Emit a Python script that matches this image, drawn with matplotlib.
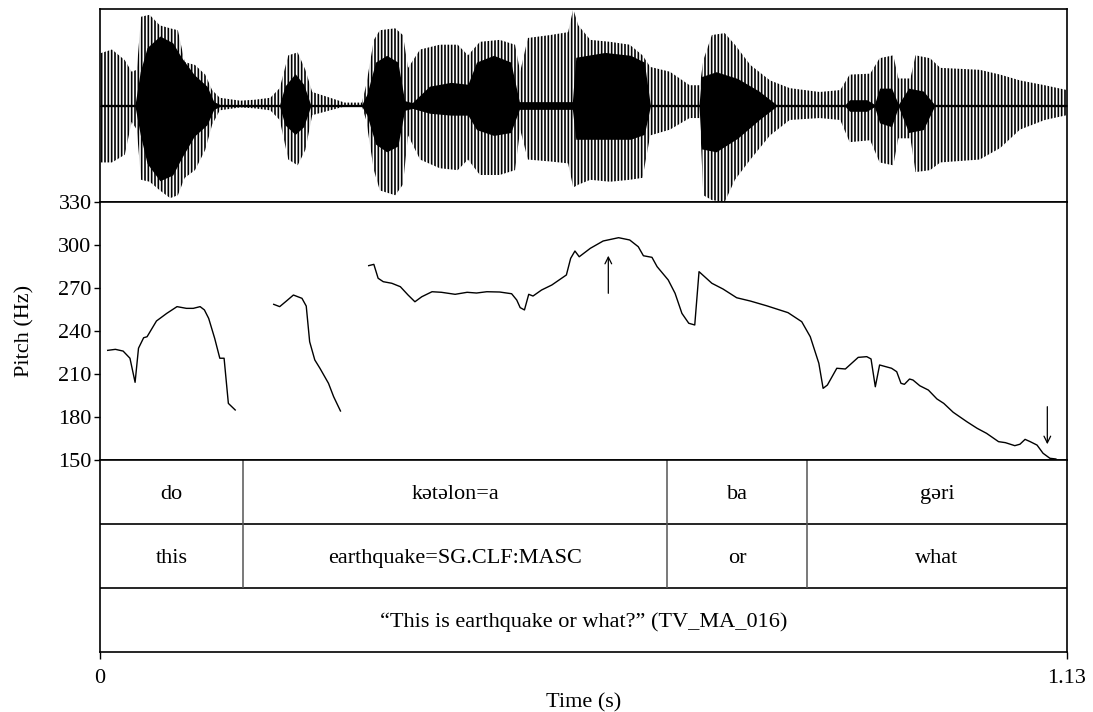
import numpy as np
import matplotlib
matplotlib.use("Agg")
import matplotlib.pyplot as plt

plt.rcParams["font.family"] = ["Liberation Serif", "DejaVu Serif"]
plt.rcParams["hatch.linewidth"] = 1.2
FS = 16
T_END = 1.13

# ── waveform envelope (panel spans -1..1) ─────────────────────────────────────
WAVE_T = [0.000, 0.014, 0.029, 0.037, 0.043, 0.048, 0.058, 0.070, 0.082, 0.091,
          0.099, 0.111, 0.123, 0.131, 0.140, 0.164, 0.181, 0.199, 0.210, 0.220,
          0.231, 0.240, 0.248, 0.269, 0.286, 0.306, 0.311, 0.320, 0.327, 0.345,
          0.354, 0.360, 0.374, 0.397, 0.418, 0.430, 0.444, 0.467, 0.485, 0.491,
          0.500, 0.526, 0.547, 0.553, 0.559, 0.573, 0.596, 0.619, 0.634, 0.643,
          0.666, 0.689, 0.701, 0.705, 0.715, 0.730, 0.742, 0.760, 0.783, 0.806,
          0.841, 0.865, 0.876, 0.900, 0.911, 0.927, 0.933, 0.947, 0.953, 0.970,
          0.982, 1.028, 1.052, 1.075, 1.104, 1.130]
WAVE_TOP = [0.54, 0.58, 0.47, 0.35, 0.37, 0.92, 0.94, 0.83, 0.80, 0.78,
            0.45, 0.42, 0.32, 0.16, 0.08, 0.05, 0.06, 0.08, 0.18, 0.52,
            0.55, 0.37, 0.14, 0.08, 0.03, 0.03, 0.21, 0.68, 0.78, 0.80,
            0.73, 0.39, 0.58, 0.63, 0.63, 0.52, 0.66, 0.68, 0.63, 0.35,
            0.70, 0.73, 0.76, 1.00, 0.83, 0.68, 0.66, 0.63, 0.52, 0.40,
            0.35, 0.21, 0.21, 0.47, 0.73, 0.75, 0.63, 0.42, 0.26, 0.18,
            0.14, 0.16, 0.32, 0.33, 0.49, 0.52, 0.28, 0.28, 0.52, 0.49,
            0.39, 0.37, 0.32, 0.26, 0.21, 0.16]
WAVE_BOT = [-0.59, -0.59, -0.51, -0.17, -0.25, -0.77, -0.79, -0.88, -0.96, -0.93,
            -0.75, -0.67, -0.46, -0.20, -0.05, -0.02, -0.03, -0.05, -0.15, -0.56,
            -0.62, -0.46, -0.10, -0.05, -0.01, -0.01, -0.15, -0.67, -0.88, -0.93,
            -0.82, -0.31, -0.56, -0.65, -0.67, -0.56, -0.72, -0.72, -0.67, -0.25,
            -0.56, -0.58, -0.60, -0.85, -0.82, -0.77, -0.79, -0.77, -0.75, -0.31,
            -0.25, -0.13, -0.13, -0.93, -0.98, -1.00, -0.77, -0.56, -0.31, -0.15,
            -0.13, -0.15, -0.38, -0.36, -0.59, -0.62, -0.34, -0.34, -0.69, -0.67,
            -0.59, -0.56, -0.44, -0.25, -0.15, -0.10]

# dense (solid black) core of the waveform
CORE_T = [0.000, 0.041, 0.047, 0.055, 0.070, 0.085, 0.095, 0.110, 0.125, 0.133,
          0.140, 0.210, 0.216, 0.228, 0.238, 0.246, 0.306, 0.312, 0.322, 0.335,
          0.348, 0.356, 0.365, 0.385, 0.410, 0.430, 0.440, 0.460, 0.480, 0.490,
          0.552, 0.556, 0.590, 0.620, 0.636, 0.643, 0.700, 0.703, 0.720, 0.745,
          0.770, 0.790, 0.871, 0.876, 0.896, 0.905, 0.911, 0.925, 0.933, 0.945,
          0.962, 0.975, 1.130]
CORE_TOP = [0.012, 0.012, 0.35, 0.60, 0.72, 0.65, 0.50, 0.32, 0.20, 0.04,
            0.012, 0.012, 0.20, 0.33, 0.22, 0.012, 0.012, 0.12, 0.45, 0.52,
            0.45, 0.05, 0.03, 0.20, 0.24, 0.22, 0.45, 0.52, 0.45, 0.04,
            0.04, 0.50, 0.55, 0.52, 0.45, 0.012, 0.012, 0.30, 0.35, 0.28,
            0.15, 0.012, 0.012, 0.06, 0.06, 0.012, 0.18, 0.18, 0.012, 0.18,
            0.15, 0.012, 0.012]
CORE_BOT = [-0.012, -0.012, -0.30, -0.60, -0.78, -0.72, -0.55, -0.32, -0.20, -0.04,
            -0.012, -0.012, -0.20, -0.30, -0.22, -0.012, -0.012, -0.10, -0.40, -0.48,
            -0.42, -0.05, -0.03, -0.08, -0.10, -0.10, -0.25, -0.31, -0.28, -0.04,
            -0.04, -0.35, -0.35, -0.35, -0.30, -0.012, -0.012, -0.45, -0.48, -0.34,
            -0.15, -0.012, -0.012, -0.06, -0.06, -0.012, -0.18, -0.22, -0.012, -0.28,
            -0.25, -0.012, -0.012]

# ── pitch track (Hz), three voiced stretches ──────────────────────────────────
SEG1_T = [0.009, 0.018, 0.027, 0.035, 0.041, 0.045, 0.051, 0.055, 0.066, 0.078,
          0.090, 0.101, 0.109, 0.117, 0.122, 0.127, 0.134, 0.140, 0.145, 0.150, 0.158]
SEG1_HZ = [226.5, 227.2, 226.0, 221.0, 204.2, 228.0, 235.3, 236.0, 247.0, 252.3,
           257.0, 255.8, 255.8, 257.0, 254.7, 248.8, 234.9, 221.0, 221.0, 189.5, 184.9]

SEG2_T = [0.203, 0.210, 0.218, 0.226, 0.236, 0.241, 0.245, 0.251, 0.257, 0.267,
          0.273, 0.281]
SEG2_HZ = [258.6, 257.0, 261.0, 265.1, 262.8, 257.4, 232.5, 219.8, 214.0, 203.5,
           194.2, 184.2]

SEG3_T = [0.314, 0.320, 0.325, 0.331, 0.341, 0.351, 0.360, 0.368, 0.376, 0.388,
          0.399, 0.415, 0.429, 0.440, 0.452, 0.467, 0.481, 0.487, 0.491, 0.496,
          0.501, 0.506, 0.516, 0.528, 0.545, 0.550, 0.555, 0.560, 0.573, 0.588,
          0.606, 0.619, 0.629, 0.635, 0.645, 0.651, 0.664, 0.672, 0.680, 0.688,
          0.695, 0.700, 0.715, 0.728, 0.744, 0.760, 0.779, 0.804, 0.820, 0.830,
          0.840, 0.845, 0.850, 0.861, 0.871, 0.886, 0.896, 0.901, 0.906, 0.911,
          0.925, 0.931, 0.936, 0.940, 0.946, 0.950, 0.958, 0.968, 0.978, 0.986,
          0.997, 1.013, 1.025, 1.036, 1.050, 1.058, 1.069, 1.075, 1.081, 1.087,
          1.095, 1.102, 1.110, 1.117]
SEG3_HZ = [285.6, 286.5, 276.8, 274.4, 273.3, 270.9, 265.1, 260.4, 263.9, 267.4,
           267.0, 265.6, 267.0, 266.5, 267.4, 267.2, 266.0, 261.6, 256.3, 254.7,
           265.6, 264.4, 268.6, 272.1, 279.1, 290.7, 295.8, 291.8, 297.7, 302.8,
           305.1, 303.5, 298.8, 292.5, 291.4, 284.9, 275.6, 266.3, 252.3, 245.4,
           244.2, 281.4, 273.3, 269.3, 263.2, 260.9, 257.6, 252.8, 246.5, 236.0,
           217.5, 200.0, 202.3, 214.0, 213.5, 221.6, 222.1, 220.5, 201.1, 216.3,
           214.0, 211.6, 203.5, 202.8, 206.5, 205.8, 201.8, 198.8, 192.6, 189.5,
           183.3, 176.7, 172.1, 168.6, 162.8, 162.1, 160.0, 161.0, 164.4, 162.8,
           160.4, 154.7, 151.2, 150.7]

ARROW_T = [0.594, 1.107]
ARROW_FROM = [266.3, 187.2]
ARROW_TO = [292.5, 161.0]

# ── annotation tiers ──────────────────────────────────────────────────────────
BOUNDS = [0.167, 0.663, 0.826]
TIER1 = ["do", "kətəlon=a", "ba", "gəri"]
TIER2 = ["this", "earthquake=SG.CLF:MASC", "or", "what"]
TIER3 = "\u201cThis is earthquake or what?\u201d (TV_MA_016)"

fig = plt.figure(figsize=(10.93, 7.12), dpi=100)
L, W = 100 / 1093, 967 / 1093
ax_w = fig.add_axes([L, 1 - 202 / 712, W, 193 / 712])
ax_p = fig.add_axes([L, 1 - 460 / 712, W, 258 / 712])
ax_t = fig.add_axes([L, 1 - 652 / 712, W, 192 / 712])

# waveform
ax_w.fill_between(WAVE_T, WAVE_BOT, WAVE_TOP, facecolor="none", edgecolor="black",
                  hatch="|||||", linewidth=0)
ax_w.fill_between(CORE_T, CORE_BOT, CORE_TOP, color="black", linewidth=0)
ax_w.plot([0, T_END], [0, 0], color="black", lw=0.7)
ax_w.set_xlim(0, T_END)
ax_w.set_ylim(-1, 1)
ax_w.set_xticks([])
ax_w.set_yticks([])

# pitch
for t, hz in [(SEG1_T, SEG1_HZ), (SEG2_T, SEG2_HZ), (SEG3_T, SEG3_HZ)]:
    ax_p.plot(t, hz, color="black", lw=1.0)
for t, a, b in zip(ARROW_T, ARROW_FROM, ARROW_TO):
    ax_p.annotate("", xy=(t, b), xytext=(t, a),
                  arrowprops=dict(arrowstyle="->", color="black", lw=0.9,
                                  shrinkA=0, shrinkB=0, mutation_scale=12))
ax_p.set_xlim(0, T_END)
ax_p.set_ylim(150, 330)
ax_p.set_yticks(np.arange(150, 331, 30))
ax_p.set_xticks([])
ax_p.tick_params(axis="y", length=4, width=1, labelsize=FS, pad=2)
ax_p.set_ylabel("Pitch (Hz)", fontsize=FS, labelpad=17)

# tiers
ax_t.set_xlim(0, T_END)
ax_t.set_ylim(3, 0)
ax_t.axhline(1, color="black", lw=1.2)
ax_t.axhline(2, color="black", lw=1.2)
edges = [0] + BOUNDS + [T_END]
for row, labels in enumerate([TIER1, TIER2]):
    ax_t.vlines(BOUNDS, row, row + 1, color="#555555", lw=1.1)
    for i, lab in enumerate(labels):
        ax_t.text((edges[i] + edges[i + 1]) / 2, row + 0.5, lab, fontsize=FS,
                  ha="center", va="center_baseline")
ax_t.text(T_END / 2, 2.5, TIER3, fontsize=FS, ha="center", va="center_baseline")
ax_t.set_yticks([])
ax_t.set_xticks([0, T_END])
ax_t.set_xticklabels(["0", "1.13"])
ax_t.tick_params(axis="x", length=5, width=1, labelsize=FS, pad=7)
ax_t.set_xlabel("Time (s)", fontsize=FS, labelpad=4)

for ax in (ax_w, ax_p, ax_t):
    for s in ax.spines.values():
        s.set_linewidth(1.2)

fig.savefig("out.png", dpi=100)
